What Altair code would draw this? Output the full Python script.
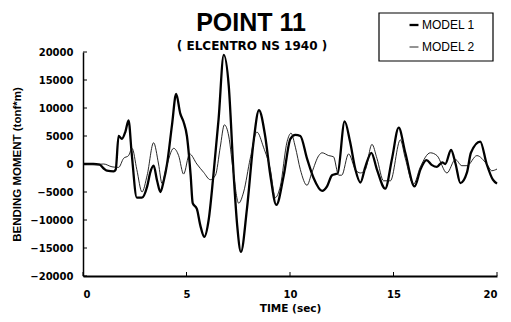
import altair as alt
import pandas as pd

# MODEL 1 (thick line)
t1 = [0, 0.5, 0.8, 1.0, 1.16, 1.48, 1.58, 1.72, 1.88, 2.05, 2.2, 2.35, 2.6, 2.85, 3.1, 3.25, 3.41, 3.58, 3.74, 3.9, 4.06, 4.3, 4.5, 4.7, 4.86, 5.02, 5.2, 5.3, 5.5, 5.67, 5.86, 6.07, 6.3, 6.55, 6.8, 7.04, 7.28, 7.45, 7.63, 7.92, 8.24, 8.5, 8.8, 9.05, 9.34, 9.7, 10.02, 10.26, 10.5, 10.82, 11.14, 11.55, 11.79, 12.03, 12.19, 12.3, 12.64, 12.9, 13.16, 13.4, 13.64, 13.93, 14.2, 14.6, 14.93, 15.25, 15.57, 16.02, 16.3, 16.59, 16.86, 17.1, 17.35, 17.5, 17.78, 18.0, 18.23, 18.55, 18.74, 19.19, 19.5, 19.8, 20]
v1 = [0, 0, -100, -800, -1200, -1300, -1000, 5000, 4500, 5800, 7800, 2000, -6000, -6000, -4000, -1500, -300, -3000, -5000, -3000, 0, 7000, 12500, 9000, 7500, 5000, -2000, -7000, -8000, -11000, -13000, -10000, -2000, 8000, 19500, 14000, -2000, -11000, -15700, -8000, 4000, 9600, 5000, -2000, -7300, -2000, 4500, 5200, 5000, 1000, -2500, -4800, -4000, -2000, -1800, -1700, 7600, 4000, -1000, -3300, -500, 2000, -1000, -4400, 1000, 6500, 2000, -4000, -1000, 700, -200, -500, 300, 0, 2500, 0, -3400, -1500, 2000, 4000, 0, -2800, -3500]

# MODEL 2 (thin line)
t2 = [0, 0.5, 1.0, 1.4, 1.72, 1.96, 2.2, 2.37, 2.6, 2.85, 3.1, 3.41, 3.65, 3.82, 4.0, 4.38, 4.62, 4.86, 5.15, 5.5, 5.83, 6.15, 6.4, 6.63, 6.83, 7.04, 7.28, 7.52, 7.76, 8.08, 8.4, 8.72, 9.05, 9.29, 9.53, 9.86, 10.05, 10.26, 10.5, 10.82, 11.06, 11.39, 11.55, 11.87, 12.1, 12.35, 12.5, 12.83, 13.16, 13.4, 13.64, 13.96, 14.2, 14.52, 14.85, 15.33, 15.57, 15.97, 16.3, 16.78, 17.1, 17.58, 17.99, 18.3, 18.55, 19.03, 19.5, 19.75, 20]
v2 = [0, -100, 0, -500, -600, 1000, 1500, 2800, -1000, -5000, -2000, 3800, 0, -3500, -1000, 2800, 1500, -1800, 1800, 0, -1500, -2800, -2000, 3000, 7000, 5000, -2000, -7000, -5000, 1000, 5700, 3000, -1000, -6000, -4000, 4000, 5500, 3000, -1000, -3800, -1500, 1500, 2000, 1500, 1300, -2000, -2000, 1800, -1000, -1600, -1000, 3500, 1000, -3000, -3000, 4300, 1000, -3600, -500, 2000, 1500, -1600, 800, -300, -300, 1500, 0, -1200, -900]

series = ["MODEL 1", "MODEL 2"]
x_ticks = [0, 5, 10, 15, 20]
y_ticks = [-20000, -15000, -10000, -5000, 0, 5000, 10000, 15000, 20000]

df = pd.concat([
    pd.DataFrame({"t": t1, "v": v1, "model": series[0]}),
    pd.DataFrame({"t": t2, "v": v2, "model": series[1]}),
])

SANS = "Liberation Sans"
WIDE = "DejaVu Sans"

xscale = alt.Scale(domain=[0, 20], nice=False)
yscale = alt.Scale(domain=[-20000, 20000], nice=False)

xaxis = alt.Axis(values=x_ticks, title="TIME (sec)", grid=False, ticks=False, tickSize=0,
                 labelFont=WIDE, labelFontSize=10, labelPadding=13, labelOverlap=False,
                 titleFont=WIDE, titleFontSize=10.5, titlePadding=4, domainWidth=2)
yaxis = alt.Axis(values=y_ticks, title="BENDING MOMENT (tonf*m)", grid=False, format="d",
                 ticks=False, tickSize=0, labelFont=WIDE, labelFontSize=10, labelPadding=10,
                 labelOverlap=False,
                 titleFont=SANS, titleFontSize=11.5, titlePadding=7, domainWidth=1.5)

lines = alt.Chart(df).mark_line(interpolate="monotone").encode(
    x=alt.X("t:Q", scale=xscale, axis=xaxis, title="TIME (sec)"),
    y=alt.Y("v:Q", scale=yscale, axis=yaxis, title="BENDING MOMENT (tonf*m)"),
    color=alt.Color("model:N", scale=alt.Scale(domain=series, range=["#000000", "#111111"]),
                    legend=alt.Legend(title=None, orient="none", legendX=325, legendY=-33)),
    strokeWidth=alt.StrokeWidth("model:N", scale=alt.Scale(domain=series, range=[2.3, 0.9]),
                                legend=alt.Legend(title=None, orient="none", legendX=325, legendY=-33)),
    detail="model:N",
    order="t:Q",
)

ytick_df = pd.DataFrame({"v": y_ticks})
yticks = alt.Chart(ytick_df).mark_rule(color="black", strokeWidth=1).encode(
    y=alt.Y("v:Q", scale=yscale, axis=yaxis, title="BENDING MOMENT (tonf*m)"),
    x=alt.value(0), x2=alt.value(4)
)
xtick_df = pd.DataFrame({"t": x_ticks})
xticks = alt.Chart(xtick_df).mark_rule(color="black", strokeWidth=1).encode(
    x=alt.X("t:Q", scale=xscale, axis=xaxis, title="TIME (sec)"),
    y=alt.value(224), y2=alt.value(220)
)

box = alt.Chart(pd.DataFrame({"a": [0]})).mark_rect(
    fill="white", stroke="black", strokeWidth=1.2, clip=False
).encode(x=alt.value(296), x2=alt.value(410), y=alt.value(-39), y2=alt.value(9))

title_df = pd.DataFrame({"a": [0]})
title = alt.Chart(title_df).mark_text(
    text="POINT 11", font=SANS, fontSize=25, fontWeight="bold", align="center", baseline="alphabetic"
).encode(x=alt.value(168), y=alt.value(-21))
subtitle = alt.Chart(title_df).mark_text(
    text="( ELCENTRO NS 1940 )", font=WIDE, fontSize=12, fontWeight="bold", align="center", baseline="alphabetic"
).encode(x=alt.value(169), y=alt.value(-2))

chart = alt.layer(box, lines, yticks, xticks, title, subtitle).resolve_scale(
    x="shared", y="shared"
).properties(
    width=414, height=224,
    autosize=alt.AutoSizeParams(type="none"),
    padding={"left": 75, "top": 44, "right": 6, "bottom": 38},
).configure_view(stroke=None).configure_axis(
    labelFontWeight="bold", titleFontWeight="bold", labelColor="black", titleColor="black",
    domainColor="black",
).configure_legend(
    labelFont=SANS, labelFontSize=12, labelColor="black", symbolType="stroke",
    symbolSize=80, symbolStrokeColor="black", rowPadding=10, labelOffset=2, padding=0,
)

chart.save("out.html", embed_options={"renderer": "svg", "actions": False})
